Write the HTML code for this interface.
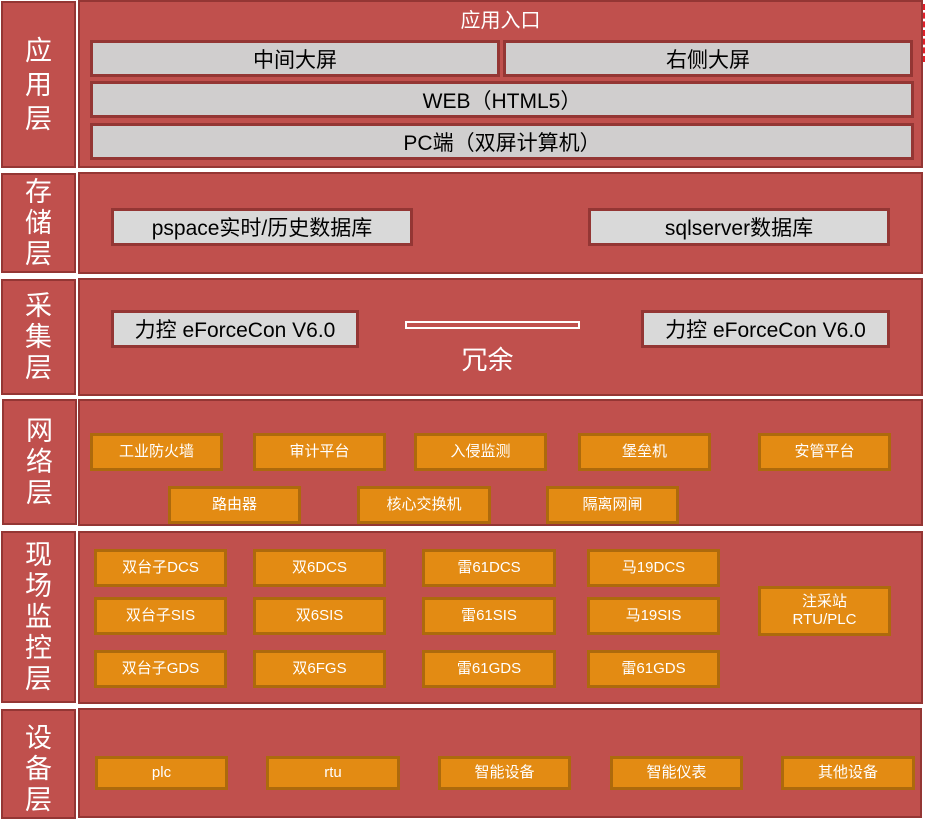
<!DOCTYPE html>
<html><head><meta charset="utf-8"><style>
*{margin:0;padding:0;box-sizing:border-box}
body{width:925px;height:813px;background:#fff;position:relative;overflow:hidden;font-family:"Liberation Sans","Noto Sans CJK SC",sans-serif}
div{position:absolute}
.p{background:#c0504d;border:2px solid #943634}
.l{background:#c0504d;border:2px solid #943634;color:#fff;display:flex;flex-direction:column;align-items:center;justify-content:center;font-size:27px;line-height:34px}
.g{background:#d0cece;border:3px solid #943634;color:#000;display:flex;align-items:center;justify-content:center;font-size:21px}
.g2{background:#d9d9d9}
.o{background:#e38b13;border:3px solid #ad6a0c;color:#fff;display:flex;align-items:center;justify-content:center;font-size:15px;text-align:center;line-height:18px}
</style></head><body>
<div style="left:922px;top:4px;width:3px;height:58px;border-left:3px dashed #e0202a"></div>
<div class="l" style="left:1px;top:1px;width:75px;height:167px"><span>应</span><span>用</span><span>层</span></div>
<div class="l" style="left:1px;top:173px;width:75px;height:100px;line-height:31px"><span>存</span><span>储</span><span>层</span></div>
<div class="l" style="left:1px;top:279px;width:75px;height:116px;line-height:31px"><span>采</span><span>集</span><span>层</span></div>
<div class="l" style="left:2px;top:399px;width:75px;height:126px;line-height:31px"><span>网</span><span>络</span><span>层</span></div>
<div class="l" style="left:1px;top:531px;width:75px;height:172px;line-height:31px"><span>现</span><span>场</span><span>监</span><span>控</span><span>层</span></div>
<div class="l" style="left:1px;top:709px;width:75px;height:110px;line-height:31px;justify-content:flex-start;padding-top:12px"><span>设</span><span>备</span><span>层</span></div>
<div class="p" style="left:78px;top:0;width:845px;height:168px"></div>
<div class="p" style="left:78px;top:172px;width:845px;height:102px"></div>
<div class="p" style="left:78px;top:278px;width:845px;height:118px"></div>
<div class="p" style="left:78px;top:399px;width:845px;height:127px"></div>
<div class="p" style="left:78px;top:531px;width:845px;height:173px"></div>
<div class="p" style="left:78px;top:708px;width:844px;height:110px"></div>
<div style="left:79px;top:8px;width:843px;text-align:center;color:#fff;font-size:20px;line-height:26px">应用入口</div>
<div class="g" style="left:90px;top:40px;width:410px;height:37px">中间大屏</div>
<div class="g" style="left:503px;top:40px;width:410px;height:37px">右侧大屏</div>
<div class="g" style="left:90px;top:81px;width:824px;height:37px">WEB（HTML5）</div>
<div class="g" style="left:90px;top:123px;width:824px;height:37px">PC端（双屏计算机）</div>
<div class="g g2" style="left:111px;top:208px;width:302px;height:38px">pspace实时/历史数据库</div>
<div class="g g2" style="left:588px;top:208px;width:302px;height:38px">sqlserver数据库</div>
<div class="g g2" style="left:111px;top:310px;width:248px;height:38px;font-size:21px">力控 eForceCon V6.0</div>
<div class="g g2" style="left:641px;top:310px;width:249px;height:38px;font-size:21px">力控 eForceCon V6.0</div>
<div style="left:405px;top:321px;width:175px;height:8px;border:2px solid #fff"></div>
<div style="left:440px;top:343px;width:95px;text-align:center;color:#fff;font-size:26px;line-height:34px">冗余</div>
<div class="o" style="left:90px;top:433px;width:133px;height:38px">工业防火墙</div>
<div class="o" style="left:253px;top:433px;width:133px;height:38px">审计平台</div>
<div class="o" style="left:414px;top:433px;width:133px;height:38px">入侵监测</div>
<div class="o" style="left:578px;top:433px;width:133px;height:38px">堡垒机</div>
<div class="o" style="left:758px;top:433px;width:133px;height:38px">安管平台</div>
<div class="o" style="left:168px;top:486px;width:133px;height:38px">路由器</div>
<div class="o" style="left:357px;top:486px;width:134px;height:38px">核心交换机</div>
<div class="o" style="left:546px;top:486px;width:133px;height:38px">隔离网闸</div>
<div class="o" style="left:94px;top:549px;width:133px;height:38px">双台子DCS</div>
<div class="o" style="left:253px;top:549px;width:133px;height:38px">双6DCS</div>
<div class="o" style="left:422px;top:549px;width:134px;height:38px">雷61DCS</div>
<div class="o" style="left:587px;top:549px;width:133px;height:38px">马19DCS</div>
<div class="o" style="left:94px;top:597px;width:133px;height:38px">双台子SIS</div>
<div class="o" style="left:253px;top:597px;width:133px;height:38px">双6SIS</div>
<div class="o" style="left:422px;top:597px;width:134px;height:38px">雷61SIS</div>
<div class="o" style="left:587px;top:597px;width:133px;height:38px">马19SIS</div>
<div class="o" style="left:94px;top:650px;width:133px;height:38px">双台子GDS</div>
<div class="o" style="left:253px;top:650px;width:133px;height:38px">双6FGS</div>
<div class="o" style="left:422px;top:650px;width:134px;height:38px">雷61GDS</div>
<div class="o" style="left:587px;top:650px;width:133px;height:38px">雷61GDS</div>
<div class="o" style="left:758px;top:586px;width:133px;height:50px">注采站<br>RTU/PLC</div>
<div class="o" style="left:95px;top:756px;width:133px;height:34px">plc</div>
<div class="o" style="left:266px;top:756px;width:134px;height:34px">rtu</div>
<div class="o" style="left:438px;top:756px;width:133px;height:34px">智能设备</div>
<div class="o" style="left:610px;top:756px;width:133px;height:34px">智能仪表</div>
<div class="o" style="left:781px;top:756px;width:134px;height:34px">其他设备</div>
</body></html>
